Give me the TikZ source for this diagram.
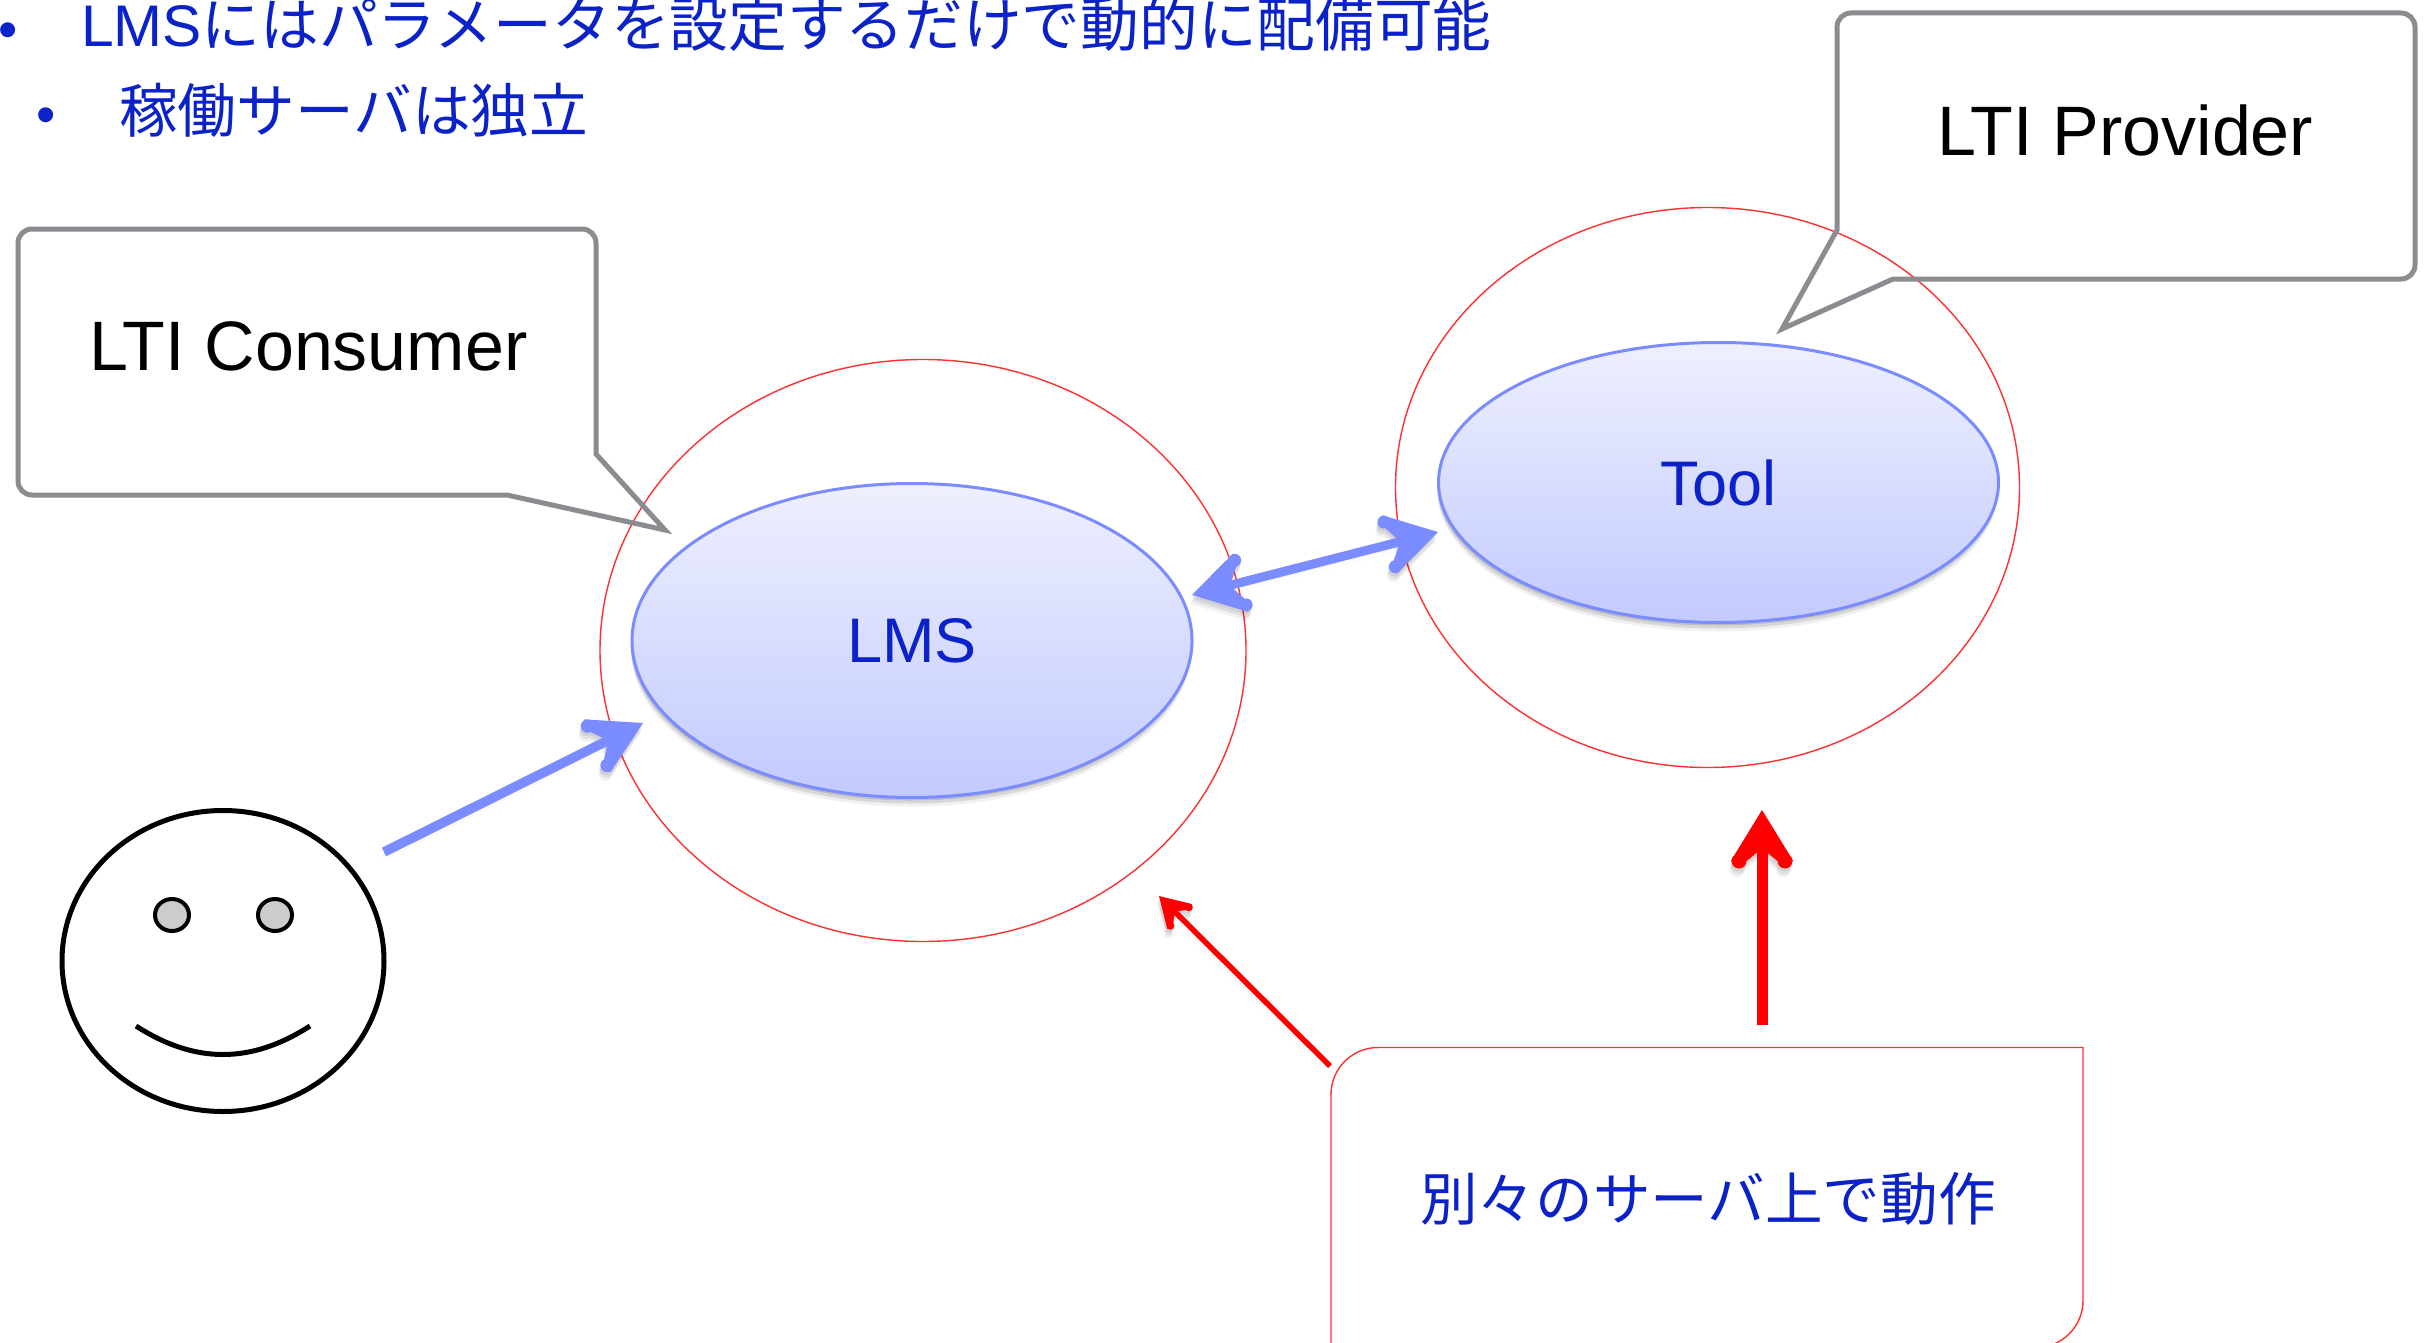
\documentclass[tikz,border=0pt]{standalone}
\usepackage{fontspec}
\setmainfont{Liberation Sans}
\newfontfamily\cjk{Noto Sans CJK JP}
\usetikzlibrary{arrows.meta,shapes.geometric,shadows}
\definecolor{textblue}{HTML}{0A22C8}
\definecolor{edgeblue}{HTML}{7A8CFF}
\definecolor{calloutgray}{HTML}{8A8C90}
\definecolor{gradtop}{HTML}{EEF0FE}
\definecolor{gradbot}{HTML}{C2CAFE}
\definecolor{eyegray}{HTML}{CCCCCC}
\definecolor{halored}{HTML}{FF3030}
\makeatletter
\pgfdeclarearrow{
  name=OpenHead,
  defaults={length=50pt,width=46pt,line width=9pt},
  parameters={\the\pgfarrowlength,\the\pgfarrowwidth,\the\pgfarrowlinewidth},
  setup code={
    \pgfarrowssettipend{0pt}
    \pgfarrowssetlineend{-0.5\pgfarrowlength}
    \pgfarrowssetvisualbackend{-0.5\pgfarrowlength}
    \pgfarrowssetbackend{-\pgfarrowlength}
    \pgfarrowshullpoint{0pt}{0pt}
    \pgfarrowshullpoint{-\pgfarrowlength}{.5\pgfarrowwidth}
    \pgfarrowshullpoint{-\pgfarrowlength}{-.5\pgfarrowwidth}
    \pgfarrowssavethe\pgfarrowlength
    \pgfarrowssavethe\pgfarrowwidth
    \pgfarrowssavethe\pgfarrowlinewidth
  },
  drawing code={
    \pgfmathsetlengthmacro{\oh@L}{\pgfarrowlength}
    \pgfmathsetlengthmacro{\oh@W}{.5*\pgfarrowwidth}
    \pgfmathsetlengthmacro{\oh@R}{.68*\pgfarrowlinewidth}
    \pgfmathsetlengthmacro{\oh@N}{.84*\pgfarrowlength}
    \pgfmathsetlengthmacro{\oh@H}{.5*\pgfarrowlinewidth}
    \pgfmathsetlengthmacro{\oh@A}{\oh@W+1.1*\oh@R}
    \pgfmathsetlengthmacro{\oh@B}{\oh@W-1.0*\oh@R}
    \pgfsetlinewidth{0pt}
    \pgfpathmoveto{\pgfqpoint{0pt}{0pt}}
    \pgfpathlineto{\pgfpoint{-\oh@L}{\oh@A}}
    \pgfpathlineto{\pgfpoint{-\oh@L}{\oh@B}}
    \pgfpathlineto{\pgfpoint{-\oh@N}{\oh@H}}
    \pgfpathlineto{\pgfpoint{-\oh@N}{-\oh@H}}
    \pgfpathlineto{\pgfpoint{-\oh@L}{-\oh@B}}
    \pgfpathlineto{\pgfpoint{-\oh@L}{-\oh@A}}
    \pgfpathclose
    \pgfpathcircle{\pgfpoint{-\oh@L}{\oh@W}}{\oh@R}
    \pgfpathcircle{\pgfpoint{-\oh@L}{-\oh@W}}{\oh@R}
    \pgfusepathqfill
  }
}
\makeatother
\tikzset{
  softshadow/.style={
    preaction={draw=black,opacity=.07,transform canvas={xshift=-1pt,yshift=-3pt}},
    preaction={draw=black,opacity=.07,transform canvas={xshift=-1pt,yshift=-6pt}},
    preaction={draw=black,opacity=.05,transform canvas={xshift=-2pt,yshift=-9pt}}},
  bluelink/.style={draw=edgeblue,line width=9.5pt,softshadow},
  redlink/.style={draw=red,softshadow},
  callout/.style={draw=calloutgray,line width=5pt,line join=miter,miter limit=12},
  blob/.style={ellipse,inner sep=0pt,outer sep=0pt,draw=edgeblue,line width=3pt,
    top color=gradtop,bottom color=gradbot,text=textblue,font=\fontsize{63}{70}\selectfont,
    general shadow={shadow yshift=-3pt,shadow xshift=-1pt,fill=black,opacity=.12},
    general shadow={shadow yshift=-6pt,shadow xshift=-1pt,fill=black,opacity=.1},
    general shadow={shadow yshift=-9pt,shadow xshift=-1pt,fill=black,opacity=.06}},
  halo/.style={ellipse,inner sep=0pt,outer sep=0pt,draw=halored,line width=1.4pt},
  calltext/.style={anchor=base west,inner sep=0pt,font=\fontsize{70}{72}\selectfont},
  bodytext/.style={anchor=base west,inner sep=0pt,text=textblue,font=\fontsize{58.7}{62}\selectfont},
  dotmark/.style={anchor=base west,inner sep=0pt,text=textblue,font=\fontsize{55}{60}\selectfont},
  facepart/.style={draw=black,line width=5pt},
}
\begin{document}
\begin{tikzpicture}[x=1pt,y=-1pt]
\useasboundingbox (0,0) rectangle (2427,1343);
\fill[white] (0,0) rectangle (2427,1343);

% bullets
\node[dotmark] (b1) at (-2,49) {•};
\node[bodytext] (t1) at (81,47) {LMS{\cjk にはパラメータを設定するだけで動的に配備可能}};
\node[dotmark] (b2) at (36,134) {•};
\node[bodytext] (t2) at (119,133) {\cjk 稼働サーバは独立};

% red halos and blue ellipses
\node[halo,minimum width=646pt,minimum height=582pt] (haloL) at (923,650.5) {};
\node[halo,minimum width=624pt,minimum height=560pt] (haloT) at (1707.5,487.5) {};
\node[blob,minimum width=560pt,minimum height=314pt] (lms) at (912,640.5) {LMS};
\node[blob,minimum width=560pt,minimum height=280pt] (tool) at (1718.5,482.5) {Tool};

% callouts
\draw[callout] (596,454) -- (665,530) -- (507,495)
  [rounded corners=14pt] -- (18,495) -- (18,229) -- (596,229) [sharp corners] -- cycle;
\node[calltext] (consumer) at (89,370) {LTI Consumer};
\draw[callout] (1837,230) -- (1782,329) -- (1893,279)
  [rounded corners=14pt] -- (2415,279) -- (2415,13) -- (1837,13) [sharp corners] -- cycle;
\node[calltext] (provider) at (1937,155.5) {LTI Provider};

% face
\node[ellipse,inner sep=0pt,facepart,minimum width=322pt,minimum height=301pt] (face) at (223,961) {};
\node[ellipse,inner sep=0pt,draw=black,line width=4pt,fill=eyegray,minimum width=34pt,minimum height=32pt] (eyeL) at (172,915) {};
\node[ellipse,inner sep=0pt,draw=black,line width=4pt,fill=eyegray,minimum width=34pt,minimum height=32pt] (eyeR) at (275,915) {};
\coordinate (smileA) at (136,1026);
\coordinate (smileB) at (310,1026);
\draw[facepart] (smileA) .. controls (195,1064) and (251,1064) .. (smileB);

% note box
\draw[draw=halored,line width=1.4pt] (1331,1347.5) -- (1331,1094.5)
  .. controls (1331,1068.5) and (1352,1047.5) .. (1378,1047.5)
  -- (2083,1047.5) -- (2083,1300.5)
  .. controls (2083,1326.5) and (2062,1347.5) .. (2036,1347.5) -- cycle;
\node[bodytext,font=\fontsize{57.6}{60}\selectfont] (note) at (1420,1220) {\cjk 別々のサーバ上で動作};

% connectors
\coordinate (userOut) at (384,852);
\coordinate (lmsIn) at (643,723);
\coordinate (lmsEnd) at (1192,595);
\coordinate (toolEnd) at (1438,532);
\coordinate (noteA) at (1330,1066);
\coordinate (haloTip) at (1159,896);
\coordinate (noteB) at (1762,1025);
\coordinate (toolTip) at (1762,810);
\draw[bluelink,-{OpenHead[length=51pt,width=44pt,line width=10pt]}] (userOut) -- (lmsIn);
\draw[bluelink,line width=9pt,{OpenHead[length=50pt,width=46pt,line width=9.5pt]}-{OpenHead[length=50pt,width=46pt,line width=9.5pt]}] (lmsEnd) -- (toolEnd);
\draw[redlink,line width=5.5pt,-{OpenHead[length=29pt,width=26pt,line width=6pt]}] (noteA) -- (haloTip);
\draw[redlink,line width=11pt,-{OpenHead[length=51pt,width=46pt,line width=11pt]}] (noteB) -- (toolTip);
\end{tikzpicture}
\end{document}
